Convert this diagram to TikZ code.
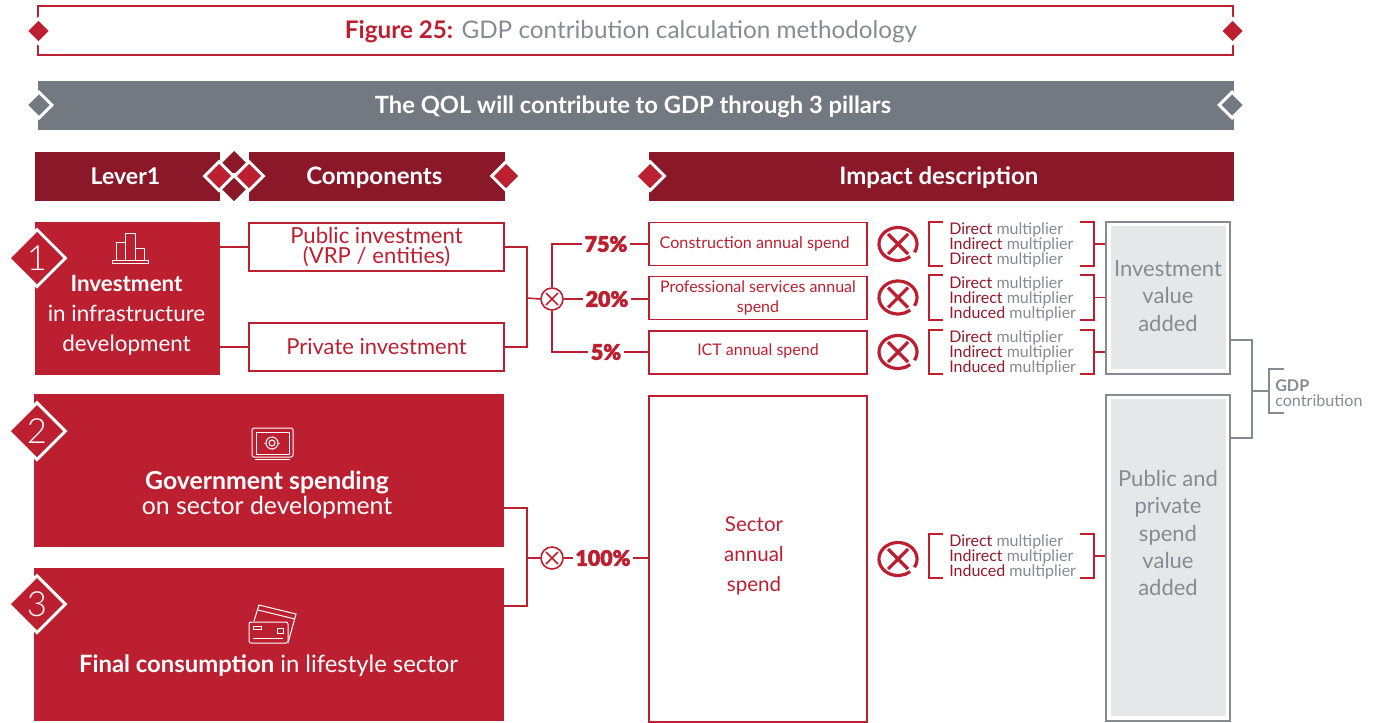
\documentclass[tikz,border=0pt]{standalone}
\usepackage{fontspec}
\setmainfont{Lato}
\newfontfamily\heavyfont[FakeBold=2.5]{Lato Black}
\newfontfamily\thinfont{Lato Light}
\usepackage{tikz}
\usetikzlibrary{calc,shapes.geometric}
\definecolor{crim}{HTML}{BC2030}
\definecolor{wine}{HTML}{8A1829}
\definecolor{slate}{HTML}{737981}
\definecolor{mist}{HTML}{E6E7E9}
\definecolor{soft}{HTML}{858B93}
\def\px{0.75pt}
\tikzset{
    box/.style args={#1 and #2}{rectangle, inner sep=0pt, minimum width=#1*\px, minimum height=#2*\px},
    lever/.style={box=#1, fill=crim, text=white, align=center},
    head/.style={box=#1, fill=wine, text=white, text height=14.5pt, text depth=3pt, font=\fontsize{18}{20}\bfseries},
    comp/.style={box=#1, draw=crim, line width=1.6*\px, text=crim, align=center},
    dia/.style={diamond, aspect=1, inner sep=0pt, minimum size=#1*\px},
    dred/.style={dia=#1, fill=crim, draw=white, line width=3*\px},
    ddark/.style={dia=#1, fill=wine, draw=white, line width=3*\px},
    dgrey/.style={dia=#1, fill=slate, draw=white, line width=3*\px},
    conn/.style={draw=crim, line width=1.6*\px},
    gconn/.style={draw=soft, line width=1.6*\px},
    pct/.style={text=crim, inner sep=2pt, font=\fontsize{16}{19}\heavyfont},
    multi/.style={box=165 and 44},
    multitxt/.style={anchor=west, inner sep=0pt, align=left, text=soft, font=\fontsize{12}{11.25}\selectfont},
    tiny/.style={circle, draw=crim, line width=1.6*\px, inner sep=0pt, minimum size=22*\px, path picture={
        \draw[crim, line width=1.5*\px] ($(path picture bounding box.center)+(-6,-6)$) -- ++(12,12);
        \draw[crim, line width=1.5*\px] ($(path picture bounding box.center)+(-6,6)$) -- ++(12,-12);}},
    pics/bigtimes/.style={code={
        \draw[crim, line width=3.2*\px] (-30:19 and 16.5) arc[start angle=-30, end angle=310, x radius=19, y radius=16.5];
        \draw[crim, line width=3.2*\px] (-10,-10) -- (10,10);
        \draw[crim, line width=3.2*\px] (-10,10) -- (10,-10);}},
}
\begin{document}
\begin{tikzpicture}[x=0.75pt,y=0.75pt,yscale=-1,xscale=1]
\useasboundingbox (0,0) rectangle (1377,722);
%Title and banner
\node [box=1195 and 49, draw=crim, line width=2.4*\px] (title) at (635.5,30.5) {};
\node [text=soft, font=\fontsize{18.2}{21}\selectfont] (titletxt) at (631,32) {\textcolor{crim}{\bfseries Figure 25:} GDP contribution calculation methodology};
\node [box=1196 and 49, fill=slate] (banner) at (636,105.5) {};
\node [text=white, font=\fontsize{17.8}{20}\bfseries] (bannertxt) at (633,107) {The QOL will contribute to GDP through 3 pillars};
\node [dred=26] (dt1) at (38.5,31) {};
\node [dred=26] (dt2) at (1232.5,31) {};
\node [dgrey=27] (db1) at (39,105) {};
\node [dgrey=27] (db2) at (1232,105) {};
%Headers
\node [head=185 and 49] (h1) at (127.5,176.5) {\fontsize{17.3}{20}\bfseries\hspace*{-3pt}Lever1};
\node [head=256 and 49] (h2) at (377,176.5) {\hspace*{-4pt}Components};
\node [head=585 and 49] (h3) at (941.5,176.5) {\hspace*{-4pt}Impact description};
\node [ddark=30] (dh1) at (234,163) {};
\node [ddark=30] (dh2) at (234,189) {};
\node [dred=30] (dh3) at (219,176) {};
\node [dred=30] (dh4) at (249,176) {};
\node [dred=30] (dh5) at (506,176) {};
\node [dred=30] (dh6) at (650,176) {};
%Levers
\node [lever=185 and 153] (lev1) at (127.5,298.5) {};
\node [lever=470 and 153] (lev2) at (269,470.5) {};
\node [lever=470 and 153] (lev3) at (269,644.5) {};
\node [text=white, align=center, font=\fontsize{16.8}{22.5}\selectfont] (lev1txt) at (126.5,315.5) {{\bfseries Investment}\\in infrastructure\\development};
\node [text=white, align=center, font=\fontsize{18.6}{18.8}\selectfont] (lev2txt) at (267,495) {{\bfseries Government spending}\\on sector development};
\node [text=white, font=\fontsize{17.9}{20}\selectfont] (lev3txt) at (268.5,666) {{\bfseries Final consumption} in lifestyle sector};
\foreach \n/\y in {1/258,2/431,3/604}
    \node [dred=58, text=white, font=\fontsize{26}{26}\thinfont] (num\n) at (37,\y) {\n};
%Bars icon
\draw [white, line width=\px] (112,260) rectangle (148,263) (116,260) rectangle (125,242) (125.5,260) rectangle (135,233) (135,260) rectangle (144,248);
%Safe icon
\draw [white, line width=\px, rounded corners=1.5pt] (252,428) rectangle (293,457);
\draw [white, line width=\px] (256,432) rectangle (289,454) (255,459) -- (290,459);
\draw [white, line width=0.6*\px] (264,443) -- (280,443) (272,436) -- (272,450);
\draw [crim, fill=crim] (272,443) circle (6.2);
\draw [white, line width=\px] (272,443) circle (3) (272,443) circle (6);
%Cards icon
\draw [white, line width=\px] (254,621) -- (259,605) -- (296,614) -- (288,643);
\draw [white, line width=\px] (258,610) -- (295,619);
\draw [white, line width=\px, fill=crim, rounded corners=1.5pt] (249,622) rectangle (288,643);
\draw [white, line width=\px] (253,626) rectangle (261,629) (277,628) rectangle (283,633) (253,638) -- (283,638);
%Components
\node [comp=255 and 48, font=\fontsize{16.6}{15.2}\selectfont] (pub) at (376.5,247) {Public investment\\(VRP / entities)};
\node [comp=255 and 48, font=\fontsize{16.5}{17}\selectfont] (priv) at (376.5,347) {Private investment};
\coordinate (jn1) at (527,298);
\coordinate (jn2) at (527,508);
\coordinate (jn3) at (527,606);
\node [tiny] (tm1) at (552,299) {};
\node [tiny] (tm2) at (552,558) {};
%Impact boxes
\node [comp=218 and 43, font=\fontsize{12.1}{15}\selectfont] (con) at (758,244) {\hspace*{-5pt}Construction annual spend};
\node [comp=218 and 43, font=\fontsize{12}{15}\selectfont] (prof) at (758,298) {Professional services annual\\spend};
\node [comp=218 and 43, font=\fontsize{12}{15}\selectfont] (ict) at (758,352.5) {\raisebox{4.5pt}{ICT annual spend}};
\node [comp=218 and 326, font=\fontsize{15.4}{22.5}\selectfont] (sec) at (758,559) {};
\node [text=crim, align=center, font=\fontsize{15.4}{22.5}\selectfont] (sectxt) at (754,556) {Sector\\annual\\spend};
\node [pct] (p75) at (606,244) {75\%};
\node [pct] (p20) at (607,299) {20\%};
\node [pct] (p5) at (606,352) {5\%};
\node [pct] (p100) at (603,558) {100\%};
%Value added
\node [box=124 and 152, draw=soft, line width=2*\px] (inv) at (1168,298) {};
\node [box=124 and 326, draw=soft, line width=2*\px] (psp) at (1168,558) {};
\node [box=115 and 143, fill=mist] (invin) at (1168,297.5) {};
\node [box=115 and 317, fill=mist] (pspin) at (1168,557.5) {};
\node [text=soft, align=center, font=\fontsize{16.5}{20.6}\selectfont] (invtxt) at (1168,296) {Investment\\value\\added};
\node [text=soft, align=center, font=\fontsize{16.5}{20.6}\selectfont] (psptxt) at (1168,533) {Public and\\private\\spend\\value\\added};
%Multiplier brackets
\foreach \i/\y/\lst in {1/244/Direct,2/297.5/Induced,3/352/Induced,4/556/Induced}{
    \node [multi] (m\i) at (1011.5,\y) {};
    \node [multitxt] (mt\i) at (949,\y+1) {\textcolor{wine!85!crim}{Direct} multiplier\\\textcolor{wine!85!crim}{Indirect} multiplier\\\textcolor{wine!85!crim}{\lst} multiplier};
    \draw [conn] ($(m\i.north west)+(14,0)$) -- (m\i.north west) -- (m\i.south west) -- ++(14,0);
    \draw [conn] ($(m\i.north east)+(-14,0)$) -- (m\i.north east) -- (m\i.south east) -- ++(-14,0);
}
\foreach \y in {244,297.5,352,559}
    \pic at (898,\y) {bigtimes};
%Connectors
\draw [conn] (lev1.east |- pub.west) -- (pub.west);
\draw [conn] (lev1.east |- priv.west) -- (priv.west);
\draw [conn] (pub.east) -| (jn1) |- (priv.east);
\draw [conn] (jn1) -- (tm1.west);
\draw [conn] (tm1.north) |- (p75.west);
\draw [conn] (tm1.south) |- (p5.west);
\draw [conn] (tm1.east) -- (p20.west);
\draw [conn] (p75.east) -- (con.west |- p75.east);
\draw [conn] (p20.east) -- (prof.west |- p20.east);
\draw [conn] (p5.east) -- (ict.west |- p5.east);
\draw [conn] (lev2.east |- jn2) -- (jn2) -- (jn3) -- (lev3.east |- jn3);
\draw [conn] (jn2 |- tm2) -- (tm2.west);
\draw [conn] (tm2.east) -- (p100.west);
\draw [conn] (p100.east) -- (sec.west |- p100.east);
\foreach \i/\t in {1/inv,2/inv,3/inv,4/psp}
    \draw [conn] (m\i.east) -- (\t.west |- m\i.east);
%GDP
\coordinate (g1) at (1252,340);
\coordinate (g2) at (1252,438);
\node [box=96 and 43, anchor=west] (gdp) at (1269,391) {};
\node [anchor=west, inner sep=0pt, align=left, text=soft, font=\fontsize{12.1}{11.2}\selectfont] (gdptxt) at (1275,393) {{\bfseries GDP}\\contribution};
\draw [gconn] (inv.east |- g1) -- (g1) -- (g2) -- (psp.east |- g2);
\draw [gconn] (g1 |- gdp.west) -- (gdp.west);
\draw [gconn] ($(gdp.north west)+(15,0)$) -- (gdp.north west) -- (gdp.south west) -- ++(15,0);
\end{tikzpicture}
\end{document}
